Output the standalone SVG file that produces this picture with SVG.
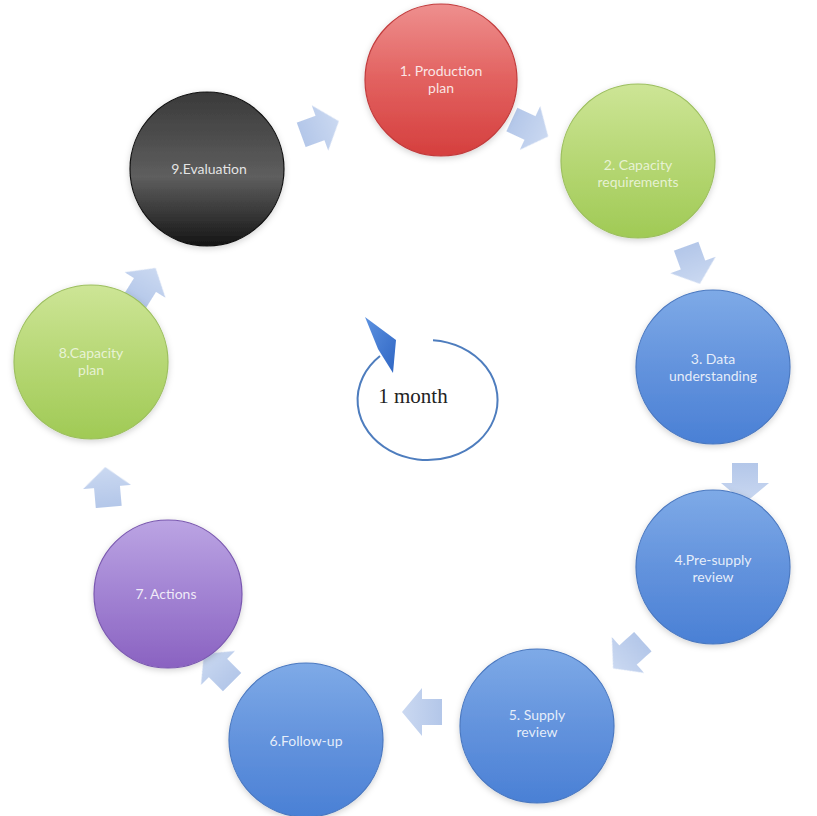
<svg xmlns="http://www.w3.org/2000/svg" width="817" height="816" viewBox="0 0 817 816">
<defs>
<style>
.lbl{font-family:Lato,"Open Sans","Liberation Sans",sans-serif;font-size:14px;fill:#ffffff;fill-opacity:0.85;text-anchor:middle}
.node circle{stroke-width:1.2;filter:url(#sh)}
.blk{fill:url(#gArr);fill-opacity:0.88;filter:url(#soft)}
</style>
<filter id="sh" x="-20%" y="-20%" width="140%" height="140%">
<feGaussianBlur in="SourceAlpha" stdDeviation="3"/>
<feOffset dy="2" result="b"/>
<feFlood flood-color="#000" flood-opacity="0.18"/>
<feComposite in2="b" operator="in"/>
<feMerge><feMergeNode/><feMergeNode in="SourceGraphic"/></feMerge>
</filter>
<filter id="soft" x="-20%" y="-20%" width="140%" height="140%"><feGaussianBlur stdDeviation="0.7"/></filter>
<linearGradient id="gRed" x1="0" y1="0" x2="0" y2="1"><stop offset="0" stop-color="#ee8f8e"/><stop offset="0.5" stop-color="#e2615f"/><stop offset="1" stop-color="#d53f3e"/></linearGradient>
<linearGradient id="gGreen" x1="0" y1="0" x2="0" y2="1"><stop offset="0" stop-color="#cde596"/><stop offset="0.5" stop-color="#b6d774"/><stop offset="1" stop-color="#a0ca55"/></linearGradient>
<linearGradient id="gBlue" x1="0" y1="0" x2="0" y2="1"><stop offset="0" stop-color="#7eaae7"/><stop offset="0.5" stop-color="#6393dd"/><stop offset="1" stop-color="#4a80d5"/></linearGradient>
<linearGradient id="gPurple" x1="0" y1="0" x2="0" y2="1"><stop offset="0" stop-color="#bba4e3"/><stop offset="0.5" stop-color="#a283d3"/><stop offset="1" stop-color="#8a62c1"/></linearGradient>
<linearGradient id="gBlack" x1="0" y1="0" x2="0" y2="1"><stop offset="0" stop-color="#3a3a3a"/><stop offset="0.55" stop-color="#5e5e5e"/><stop offset="1" stop-color="#151515"/></linearGradient>
<linearGradient id="gArr" x1="0" y1="0" x2="1" y2="0"><stop offset="0" stop-color="#a9bfe6"/><stop offset="1" stop-color="#c3d3ef"/></linearGradient>
<linearGradient id="gHead" x1="0" y1="0" x2="1" y2="1"><stop offset="0" stop-color="#5d92e0"/><stop offset="1" stop-color="#2f66c4"/></linearGradient>
<path id="barr" d="M-20,-13 L0,-13 L0,-24 L20,0 L0,24 L0,13 L-20,13 Z"/>
</defs>

<g id="connectors">
<use href="#barr" class="blk" transform="translate(320,128) rotate(-20)"/>
<use href="#barr" class="blk" transform="translate(530,128) rotate(25)"/>
<use href="#barr" class="blk" transform="translate(693,265) rotate(70)"/>
<use href="#barr" class="blk" transform="translate(745,483) rotate(90)"/>
<use href="#barr" class="blk" transform="translate(628,655) rotate(138)"/>
<use href="#barr" class="blk" transform="translate(422,712) rotate(180)"/>
<use href="#barr" class="blk" transform="translate(218,668) rotate(225)"/>
<use href="#barr" class="blk" transform="translate(107,487) rotate(-95)"/>
<use href="#barr" class="blk" transform="translate(145,285) rotate(-58)"/>
</g>

<g id="node1" class="node"><circle cx="441" cy="80" r="76" fill="url(#gRed)" stroke="#c23b3c"/><text class="lbl" x="441" y="76">1. Production</text><text class="lbl" x="441" y="93">plan</text></g>
<g id="node2" class="node"><circle cx="638" cy="161" r="77" fill="url(#gGreen)" stroke="#9cbf5e"/><text class="lbl" x="638" y="170" style="fill-opacity:0.7">2. Capacity</text><text class="lbl" x="638" y="187" style="fill-opacity:0.7">requirements</text></g>
<g id="node3" class="node"><circle cx="713" cy="367" r="77" fill="url(#gBlue)" stroke="#4a78c0"/><text class="lbl" x="713" y="364">3. Data</text><text class="lbl" x="713" y="381">understanding</text></g>
<g id="node4" class="node"><circle cx="713" cy="567" r="77" fill="url(#gBlue)" stroke="#4a78c0"/><text class="lbl" x="713" y="565">4.Pre-supply</text><text class="lbl" x="713" y="582">review</text></g>
<g id="node5" class="node"><circle cx="537" cy="726" r="77" fill="url(#gBlue)" stroke="#4a78c0"/><text class="lbl" x="537" y="720">5. Supply</text><text class="lbl" x="537" y="737">review</text></g>
<g id="node6" class="node"><circle cx="306" cy="740" r="77" fill="url(#gBlue)" stroke="#4a78c0"/><text class="lbl" x="306" y="746">6.Follow-up</text></g>
<g id="node7" class="node"><circle cx="168" cy="594" r="74" fill="url(#gPurple)" stroke="#7a58b0"/><text class="lbl" x="166" y="599">7. Actions</text></g>
<g id="node8" class="node"><circle cx="91" cy="362" r="77" fill="url(#gGreen)" stroke="#9cbf5e"/><text class="lbl" x="91" y="358" style="fill-opacity:0.7">8.Capacity</text><text class="lbl" x="91" y="375" style="fill-opacity:0.7">plan</text></g>
<g id="node9" class="node"><circle cx="207" cy="169" r="77" fill="url(#gBlack)" stroke="#111"/><text class="lbl" x="209" y="174">9.Evaluation</text></g>

<g id="cycle">
<path d="M433,340.2 A70,60 0 1 1 380,356" fill="none" stroke="#4e7dbe" stroke-width="2"/>
<polygon points="365,317 396,340 393,373 378,349" fill="url(#gHead)"/>
<text x="413" y="403" font-family="Liberation Serif,serif" font-size="21" fill="#222" text-anchor="middle">1 month</text>
</g>
</svg>
